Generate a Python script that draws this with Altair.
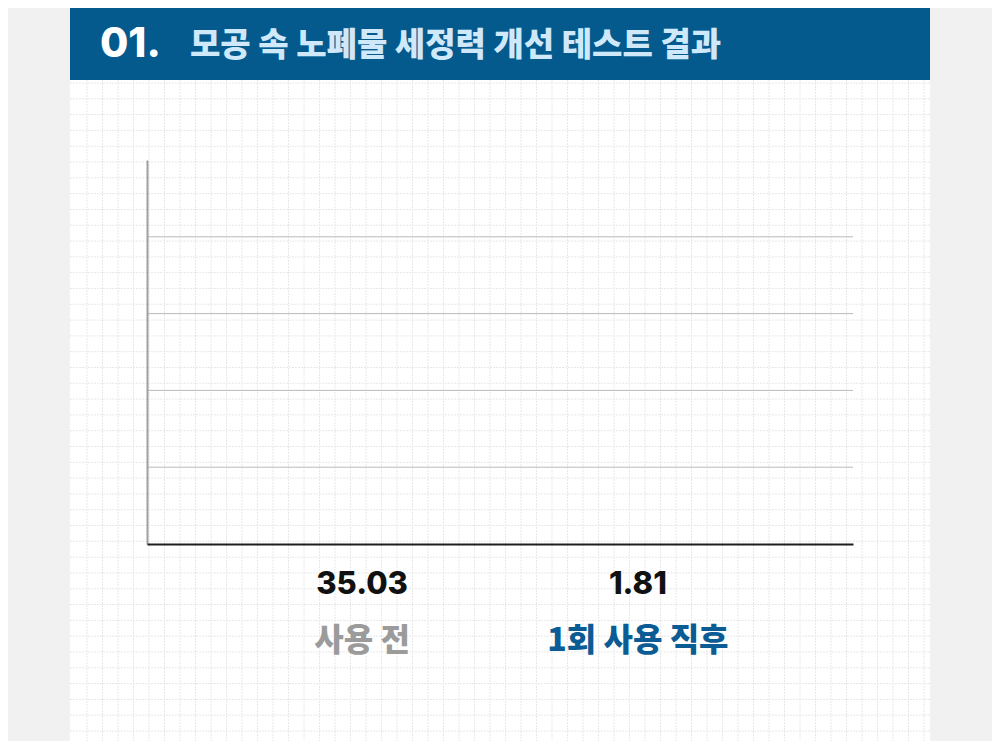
import altair as alt
import pandas as pd

categories = ["사용 전", "1회 사용 직후"]
values = [35.03, 1.81]
label_colors = ["#9b9b9b", "#0b5c94"]
grid_ticks = [10, 20, 30, 40]

title_num = "01."
title_text = "모공 속 노폐물 세정력 개선 테스트 결과"

FONT = "Noto Sans CJK KR"
NUM_FONT = "Inter"

df = pd.DataFrame({"category": categories, "value": values})
grid_df = pd.DataFrame({"tick": grid_ticks})
one = pd.DataFrame({"k": [0]})

W, H = 706, 384

bars = alt.Chart(df).mark_bar(opacity=0).encode(
    x=alt.X(
        "category:N",
        sort=categories,
        scale=alt.Scale(paddingInner=0.5, paddingOuter=0.53),
        axis=alt.Axis(labels=False, ticks=False, title=None, grid=False,
                      domainColor="#1e1e1e", domainWidth=2, zindex=2),
    ),
    y=alt.Y("value:Q", scale=alt.Scale(domain=[0, 50]),
            axis=alt.Axis(labels=False, ticks=False, title=None, grid=False,
                          domainColor="#a0a0a0", domainWidth=2, zindex=1)),
)

gridlines = alt.Chart(grid_df).mark_rule(color="#bababa", strokeWidth=1).encode(
    y=alt.Y("tick:Q"),
    x=alt.value(0), x2=alt.value(W),
)

value_labels = alt.Chart(df).mark_text(
    font=NUM_FONT, fontSize=31, fontWeight=800, color="#111111", baseline="middle"
).encode(
    x=alt.X("category:N", sort=categories),
    y=alt.value(425),
    text=alt.Text("value:Q", format=".2f"),
)

cat_labels = alt.Chart(df).mark_text(
    font=FONT, fontSize=32, fontWeight=900, baseline="middle"
).encode(
    x=alt.X("category:N", sort=categories),
    y=alt.value(481),
    text="category:N",
    color=alt.Color("category:N", scale=alt.Scale(domain=categories, range=label_colors), legend=None),
)

data_layer = alt.layer(gridlines, bars, value_labels, cat_labels)

# decorative panel, header and background pattern
panel = alt.Chart(one).mark_rect(color="#ffffff").encode(
    x=alt.value(-77), x2=alt.value(783), y=alt.value(-80), y2=alt.value(600)
)
header = alt.Chart(one).mark_rect(color="#045a8d").encode(
    x=alt.value(-77), x2=alt.value(783), y=alt.value(-170), y2=alt.value(-80)
)
vlines = alt.Chart(pd.DataFrame({"i": list(range(55))})).mark_rule(
    color="#e8e8e8", strokeWidth=1, strokeDash=[2, 1]
).encode(
    x=alt.X("i:Q", scale=alt.Scale(domain=[0, 54], range=[-60, 777]), axis=None),
    y=alt.value(-80), y2=alt.value(600),
)
hlines = alt.Chart(pd.DataFrame({"j": list(range(42))})).mark_rule(
    color="#e8e8e8", strokeWidth=1, strokeDash=[2, 1]
).encode(
    y=alt.Y("j:Q", scale=alt.Scale(domain=[0, 41], range=[-77, 571]), axis=None),
    x=alt.value(-77), x2=alt.value(783),
)
num_text = alt.Chart(one).mark_text(
    text=title_num, font=NUM_FONT, fontSize=41, fontWeight=800, color="#ffffff",
    align="left", baseline="alphabetic"
).encode(x=alt.value(-47), y=alt.value(-103))
head_text = alt.Chart(one).mark_text(
    text=title_text, font=FONT, fontSize=33, fontWeight=900, color="#cfe9fb",
    align="left", baseline="alphabetic"
).encode(x=alt.value(43), y=alt.value(-104))

chart = alt.layer(
    panel, vlines, hlines, header, num_text, head_text, data_layer
).resolve_scale(
    x="independent", y="independent", color="independent"
).properties(
    width=W, height=H,
    autosize=alt.AutoSizeParams(type="none"),
    padding={"left": 139, "top": 152, "right": 139, "bottom": 197},
    background="#f1f1f1",
).configure_view(stroke=None)

chart.save("out.html", embed_options={"renderer": "svg", "actions": False})
